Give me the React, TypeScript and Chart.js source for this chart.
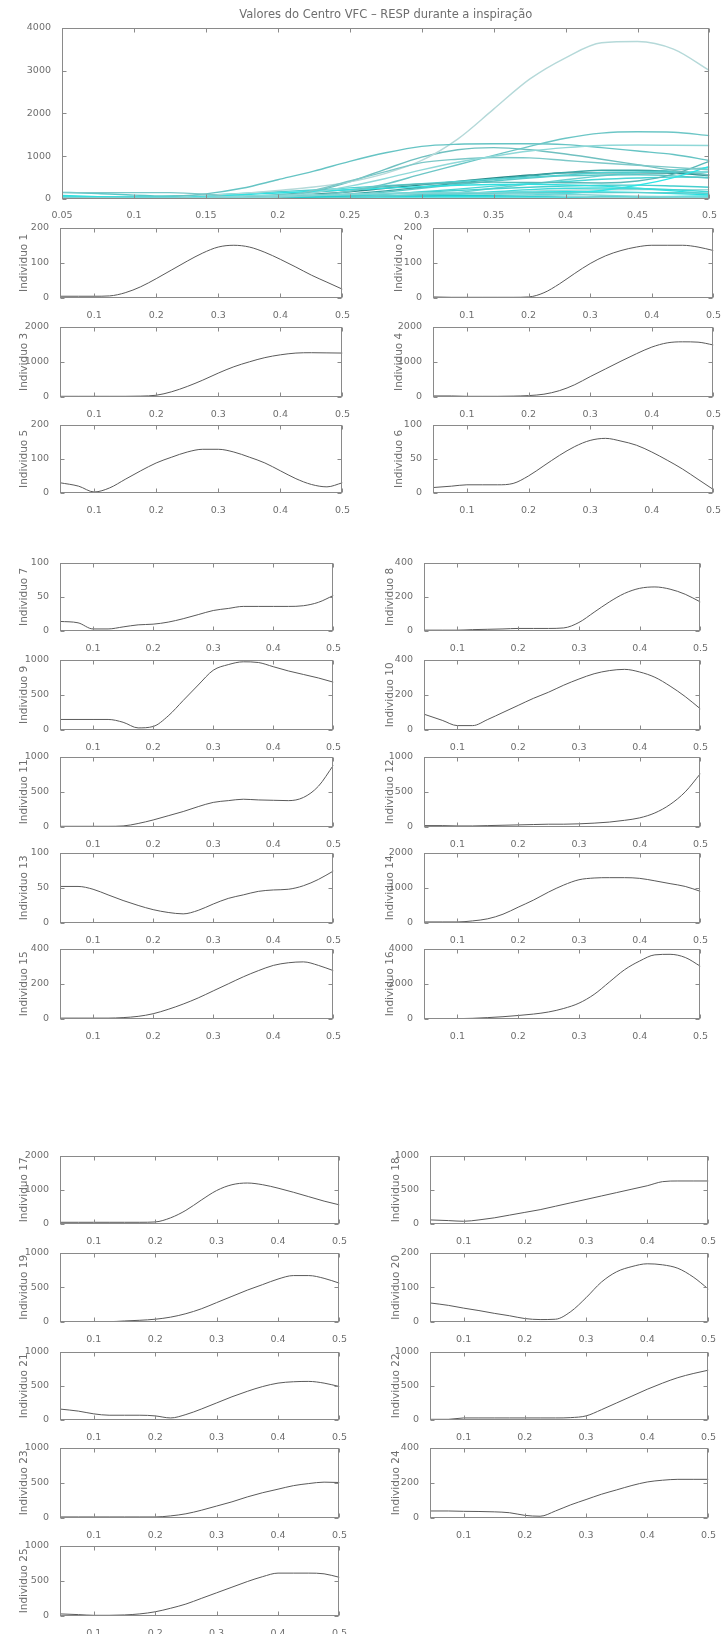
import React, { useEffect, useRef } from 'react';
import { Chart, registerables } from 'chart.js';

Chart.register(...registerables);

// ---------------- DATA ----------------
const titleText = 'Valores do Centro VFC – RESP durante a inspiração';

const freqs = [0.045, 0.075, 0.1, 0.125, 0.15, 0.175, 0.2, 0.225, 0.25, 0.275, 0.3, 0.325, 0.35, 0.375, 0.4, 0.425, 0.45, 0.475, 0.5];

const ind1 = [5, 5, 5, 6, 15, 32, 55, 80, 105, 128, 145, 150, 145, 130, 110, 88, 65, 45, 25];
const ind2 = [3, 2, 2, 2, 2, 2, 3, 15, 40, 70, 98, 120, 135, 145, 150, 150, 150, 145, 135];
const ind3 = [20, 20, 20, 20, 20, 25, 50, 150, 300, 480, 680, 860, 1000, 1120, 1200, 1250, 1260, 1255, 1250];
const ind4 = [30, 30, 20, 20, 20, 25, 40, 80, 180, 350, 580, 800, 1020, 1230, 1420, 1540, 1570, 1560, 1480];
const ind5 = [30, 20, 3, 15, 40, 65, 88, 105, 120, 128, 128, 120, 105, 88, 65, 42, 25, 18, 30];
const ind6 = [8, 10, 12, 12, 12, 14, 25, 40, 55, 68, 77, 80, 76, 70, 60, 48, 35, 20, 5];
const ind7 = [14, 12, 3, 3, 6, 9, 10, 13, 18, 24, 30, 33, 36, 36, 36, 36, 37, 42, 52];
const ind8 = [5, 5, 5, 8, 10, 12, 15, 15, 15, 18, 50, 110, 170, 220, 250, 258, 245, 215, 170];
const ind9 = [150, 150, 150, 150, 110, 30, 50, 200, 420, 640, 850, 930, 970, 960, 900, 840, 790, 740, 680];
const ind10 = [90, 55, 25, 25, 60, 100, 140, 180, 215, 255, 290, 320, 338, 345, 330, 300, 250, 190, 120];
const ind11 = [10, 10, 10, 10, 15, 50, 100, 160, 220, 290, 350, 375, 395, 385, 380, 375, 420, 580, 880];
const ind12 = [20, 20, 15, 15, 20, 25, 30, 35, 40, 40, 45, 55, 70, 95, 130, 200, 320, 500, 760];
const ind13 = [52, 52, 48, 40, 32, 25, 19, 15, 13, 18, 27, 35, 40, 45, 47, 48, 53, 62, 74];
const ind14 = [30, 30, 30, 60, 120, 250, 450, 650, 880, 1080, 1230, 1280, 1290, 1290, 1270, 1200, 1120, 1040, 900];
const ind15 = [5, 5, 5, 5, 8, 15, 30, 55, 85, 120, 160, 200, 240, 275, 305, 320, 325, 305, 275];
const ind16 = [20, 20, 20, 40, 80, 130, 200, 280, 400, 600, 900, 1400, 2100, 2800, 3300, 3650, 3680, 3500, 3000];
const ind17 = [50, 50, 50, 50, 50, 50, 60, 180, 400, 700, 980, 1150, 1200, 1150, 1050, 930, 800, 670, 560];
const ind18 = [60, 50, 40, 60, 90, 130, 170, 210, 260, 310, 360, 410, 460, 510, 560, 620, 630, 630, 630];
const ind19 = [5, 5, 5, 5, 15, 25, 40, 70, 120, 190, 280, 370, 460, 540, 620, 670, 670, 630, 560];
const ind20 = [55, 48, 40, 33, 25, 18, 10, 7, 8, 30, 70, 115, 145, 160, 168, 165, 155, 130, 95];
const ind21 = [160, 130, 90, 70, 70, 70, 60, 30, 80, 160, 250, 340, 420, 490, 540, 560, 565, 540, 490];
const ind22 = [10, 10, 30, 30, 30, 30, 30, 30, 30, 35, 60, 150, 250, 350, 450, 540, 620, 680, 730];
const ind23 = [15, 15, 15, 15, 15, 15, 15, 30, 60, 110, 170, 230, 300, 360, 410, 460, 490, 510, 505];
const ind24 = [40, 40, 38, 37, 35, 30, 15, 10, 40, 75, 105, 135, 160, 185, 205, 215, 220, 220, 220];
const ind25 = [30, 20, 10, 10, 15, 30, 60, 110, 170, 250, 330, 410, 490, 560, 610, 610, 610, 600, 550];

const individuals = [ind1, ind2, ind3, ind4, ind5, ind6, ind7, ind8, ind9, ind10, ind11, ind12, ind13,
  ind14, ind15, ind16, ind17, ind18, ind19, ind20, ind21, ind22, ind23, ind24, ind25];

const yMaxes = [200, 200, 2000, 2000, 200, 100, 100, 400, 1000, 400, 1000, 1000, 100, 2000, 400, 4000,
  2000, 1000, 1000, 200, 1000, 1000, 1000, 400, 1000];

const subXTicks = [0.1, 0.2, 0.3, 0.4, 0.5];
const topXTicks = [0.05, 0.1, 0.15, 0.2, 0.25, 0.3, 0.35, 0.4, 0.45, 0.5];
const topYTicks = [0, 1000, 2000, 3000, 4000];

// ---------------- STYLE / LAYOUT ----------------
const lineColors = ['#7fd6d6', '#5ccfcf', '#8fd8d8', '#6cc6c6', '#8ad8d8', '#20d0d0', '#60e0e0', '#40d8d8',
  '#7cc8c8', '#30e0e0', '#5ab8b8', '#2ee6e6', '#48dede', '#66c4c4', '#45cfcf', '#b5d9d9', '#70c0c0',
  '#50d0d0', '#3aa8a8', '#28e0e0', '#58c8c8', '#68d0d0', '#4ad4d4', '#9cd8d8', '#2a8c8c'];

const TEXT = '#6e6e6e';
const BOX = '#8a8a8a';
const CURVE = '#5a5a5a';
const FONT = 'DejaVu Sans';

const groups = [
  { first: 0, count: 6, rows: [[227, 298], [326, 397], [424, 493]], cols: [[60, 346], [433, 717]] },
  { first: 6, count: 10, rows: [[562, 631], [659, 730], [756, 827], [852, 923], [948, 1019]], cols: [[60, 337], [424, 704]] },
  { first: 16, count: 9, rows: [[1155, 1224], [1252, 1322], [1351, 1420], [1447, 1518], [1545, 1616]], cols: [[60, 343], [430, 712]] },
];

const boxPlugin = {
  id: 'matlabBox',
  afterDraw(chart: any) {
    const { ctx, chartArea: a, scales } = chart;
    ctx.save();
    ctx.strokeStyle = BOX;
    ctx.lineWidth = 1;
    const l = Math.round(a.left) + 0.5, r = Math.round(a.right) - 0.5;
    const t = Math.round(a.top) + 0.5, b = Math.round(a.bottom) - 0.5;
    ctx.strokeRect(l, t, r - l, b - t);
    ctx.beginPath();
    for (const tk of scales.x.ticks) {
      const p = Math.round(scales.x.getPixelForValue(tk.value)) + 0.5;
      ctx.moveTo(p, b); ctx.lineTo(p, b - 4);
      ctx.moveTo(p, t); ctx.lineTo(p, t + 4);
    }
    for (const tk of scales.y.ticks) {
      const p = Math.round(scales.y.getPixelForValue(tk.value)) + 0.5;
      ctx.moveTo(l, p); ctx.lineTo(l + 4, p);
      ctx.moveTo(r, p); ctx.lineTo(r - 4, p);
    }
    ctx.stroke();
    ctx.restore();
  },
};

const fmt = (v: any) => String(v);

function subplotConfig(i: number, titlePad: number): any {
  const m = yMaxes[i];
  return {
    type: 'line',
    data: {
      datasets: [{
        data: freqs.map((x, k) => ({ x, y: individuals[i][k] })),
        borderColor: CURVE, borderWidth: 1, pointRadius: 0, fill: false,
        cubicInterpolationMode: 'monotone',
      }],
    },
    options: {
      responsive: false, animation: false, devicePixelRatio: 1,
      layout: { padding: { left: 0, top: 8, right: 8, bottom: 0 } },
      plugins: { legend: { display: false }, tooltip: { enabled: false } },
      scales: {
        x: {
          type: 'linear', min: 0.045, max: 0.5,
          grid: { display: false }, border: { display: false },
          afterBuildTicks: (s: any) => { s.ticks = subXTicks.map((v) => ({ value: v })); },
          afterFit: (s: any) => { s.height = 20; },
          ticks: { font: { family: FONT, size: 9.5 }, color: TEXT, padding: 4, maxRotation: 0, autoSkip: false, callback: fmt },
        },
        y: {
          type: 'linear', min: 0, max: m,
          grid: { display: false }, border: { display: false },
          afterBuildTicks: (s: any) => { s.ticks = [0, m / 2, m].map((v) => ({ value: v })); },
          afterFit: (s: any) => { s.width = 50; },
          ticks: { font: { family: FONT, size: 9.5 }, color: TEXT, padding: 3, autoSkip: false, callback: fmt },
          title: { display: true, text: 'Individuo ' + (i + 1), color: TEXT, font: { family: FONT, size: 10.5 }, padding: { top: titlePad, bottom: 0 } },
        },
      },
    },
    plugins: [boxPlugin],
  };
}

function topConfig(): any {
  return {
    type: 'line',
    data: {
      datasets: individuals.map((vals, i) => ({
        data: freqs.map((x, k) => ({ x, y: vals[k] })),
        borderColor: lineColors[i], borderWidth: 1.4, pointRadius: 0, fill: false,
        cubicInterpolationMode: 'monotone',
      })),
    },
    options: {
      responsive: false, animation: false, devicePixelRatio: 1,
      layout: { padding: { left: 0, top: 0, right: 8, bottom: 0 } },
      plugins: {
        legend: { display: false }, tooltip: { enabled: false },
        title: { display: true, text: titleText, fullSize: false, color: TEXT, font: { family: FONT, size: 11.5, weight: 'normal' }, padding: { top: 8, bottom: 6 } },
      },
      scales: {
        x: {
          type: 'linear', min: 0.05, max: 0.5,
          grid: { display: false }, border: { display: false },
          afterBuildTicks: (s: any) => { s.ticks = topXTicks.map((v) => ({ value: v })); },
          afterFit: (s: any) => { s.height = 20; },
          ticks: { font: { family: FONT, size: 9.5 }, color: TEXT, padding: 3, maxRotation: 0, autoSkip: false, callback: fmt },
        },
        y: {
          type: 'linear', min: 0, max: 4000,
          grid: { display: false }, border: { display: false },
          afterBuildTicks: (s: any) => { s.ticks = topYTicks.map((v) => ({ value: v })); },
          afterFit: (s: any) => { s.width = 50; },
          ticks: { font: { family: FONT, size: 9.5 }, color: TEXT, padding: 3, autoSkip: false, callback: fmt },
        },
      },
    },
    plugins: [boxPlugin],
  };
}

function ChartCanvas(props: { left: number; top: number; width: number; height: number; make: () => any }) {
  const ref = useRef<HTMLCanvasElement>(null);
  useEffect(() => {
    const chart = new Chart(ref.current as HTMLCanvasElement, props.make());
    return () => chart.destroy();
  }, []);
  return (
    <canvas
      ref={ref}
      width={props.width}
      height={props.height}
      style={{ position: 'absolute', left: props.left, top: props.top, width: props.width, height: props.height }}
    />
  );
}

export default function App() {
  const panels: any[] = [];
  groups.forEach((g) => {
    for (let k = 0; k < g.count; k++) {
      const i = g.first + k;
      const [T, B] = g.rows[Math.floor(k / 2)];
      const [L, R] = g.cols[k % 2];
      panels.push({ i, L, R, T, B, titlePad: k % 2 === 0 ? 8 : 10 });
    }
  });
  return (
    <div style={{ position: 'absolute', left: 0, top: 0, width: 725, height: 1634, background: '#fff', overflow: 'hidden' }}>
      <ChartCanvas left={12} top={0} width={708} height={219} make={topConfig} />
      {panels.map((p) => (
        <ChartCanvas
          key={p.i}
          left={p.L - 50}
          top={p.T - 8}
          width={p.R - p.L + 58}
          height={p.B - p.T + 28}
          make={() => subplotConfig(p.i, p.titlePad)}
        />
      ))}
    </div>
  );
}
